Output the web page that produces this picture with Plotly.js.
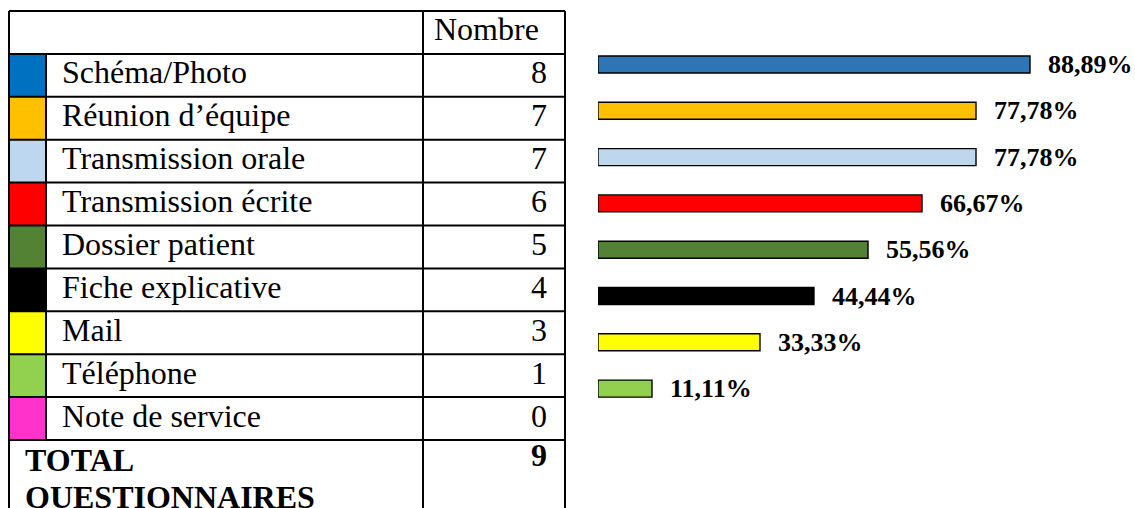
<!DOCTYPE html>
<html><head><meta charset="utf-8">
<script src="https://cdn.plot.ly/plotly-3.0.1.min.js"></script>
<style>html,body{margin:0;padding:0;background:#fff;} #chart{width:1135px;height:508px;}</style>
</head><body><div id="chart"></div>
<script>
// ---- data ----
const categories = ["Schéma/Photo","Réunion d’équipe","Transmission orale","Transmission écrite","Dossier patient","Fiche explicative","Mail","Téléphone","Note de service"];
const counts = [8,7,7,6,5,4,3,1,0];
const swatchColors = ["#0070C0","#FFC000","#BDD7EE","#FF0000","#548235","#000000","#FFFF00","#92D050","#FF33CC"];
const headerLabel = "Nombre";
const totalLines = ["TOTAL","QUESTIONNAIRES"];
const totalCount = 9;
const barCategories = ["Schéma/Photo","Réunion d’équipe","Transmission orale","Transmission écrite","Dossier patient","Fiche explicative","Mail","Téléphone"];
const percentages = [88.89,77.78,77.78,66.67,55.56,44.44,33.33,11.11];
const percentLabels = ["88,89%","77,78%","77,78%","66,67%","55,56%","44,44%","33,33%","11,11%"];
const barColors = ["#2E75B6","#FFC000","#BDD7EE","#FF0000","#548235","#000000","#FFFF00","#92D050"];

// ---- layout constants ----
const W = 1135, H = 508;
const FONT = "Liberation Serif, Times New Roman, serif";
const tableLeft = 9, tableTop = 11, rowH = 42.9;
const colEdges = [0, 37, 414, 556]; // swatch | label | number (widths in table units)
const nRows = categories.length;

const shapes = [];
const annotations = [];
const TX = {xref:'x', yref:'y'};

// swatches
categories.forEach((c,i)=>{
  shapes.push({type:'rect', ...TX, x0:colEdges[0], x1:colEdges[1], y0:i+1, y1:i+2,
    fillcolor:swatchColors[i], line:{width:0}, layer:'above'});
});
// horizontal rules
for (let r=0; r<=nRows+1; r++){
  shapes.push({type:'line', ...TX, x0:colEdges[0], x1:colEdges[3], y0:r, y1:r, line:{color:'#000', width:2}});
}
// vertical rules
[colEdges[0], colEdges[2], colEdges[3]].forEach(x=>{
  shapes.push({type:'line', ...TX, x0:x, x1:x, y0:0, y1:nRows+3, line:{color:'#000', width:2}});
});
shapes.push({type:'line', ...TX, x0:colEdges[1], x1:colEdges[1], y0:1, y1:nRows+1, line:{color:'#000', width:2}});

const cellFont = {family:FONT, size:32, color:'#000'};
annotations.push({...TX, x:colEdges[2]+9, y:0.5, yshift:3, text:headerLabel, showarrow:false, xanchor:'left', yanchor:'middle', font:cellFont});
categories.forEach((c,i)=>{
  annotations.push({...TX, x:colEdges[1]+14, y:i+1.5, yshift:3, text:c, showarrow:false, xanchor:'left', yanchor:'middle', font:cellFont});
  annotations.push({...TX, x:colEdges[3]-16, y:i+1.5, yshift:3, text:String(counts[i]), showarrow:false, xanchor:'right', yanchor:'middle', font:cellFont});
});
totalLines.forEach((t,k)=>{
  annotations.push({...TX, x:colEdges[0]+14, y:nRows+1.47+k*0.86, text:'<b>'+t+'</b>', showarrow:false, xanchor:'left', yanchor:'middle', font:cellFont});
});
annotations.push({...TX, x:colEdges[3]-16, y:nRows+1.35, text:'<b>'+totalCount+'</b>', showarrow:false, xanchor:'right', yanchor:'middle', font:cellFont});

// bar labels
percentLabels.forEach((t,i)=>{
  annotations.push({xref:'x2', yref:'y2', x:percentages[i], y:i, text:'<b>'+t+'</b>', showarrow:false,
    xanchor:'left', yanchor:'middle', xshift:16, font:{family:FONT, size:26, color:'#000'}});
});

const barTop = 64.5, barStep = 46.3;
const y2top = barTop - 0.5*barStep, y2bot = barTop + (barCategories.length-0.5)*barStep;

const data = [{
  type:'bar', orientation:'h', x:percentages, y:barCategories, xaxis:'x2', yaxis:'y2',
  marker:{color:barColors, line:{color:'#000', width:1.4}}, hoverinfo:'skip'
}];

const hidden = {visible:false, showgrid:false, zeroline:false, fixedrange:true};
const layout = {
  width:W, height:H, margin:{l:0,r:0,t:0,b:0}, paper_bgcolor:'#fff', plot_bgcolor:'rgba(0,0,0,0)',
  showlegend:false, bargap:0.633,
  xaxis:{...hidden, domain:[0,1], range:[-tableLeft, W-tableLeft]},
  yaxis:{...hidden, domain:[0,1], range:[(H-tableTop)/rowH, -tableTop/rowH]},
  xaxis2:{...hidden, anchor:'y2', domain:[598/W, 1084/W], range:[0,100]},
  yaxis2:{...hidden, anchor:'x2', type:'category', domain:[1-y2bot/H, 1-y2top/H], range:[barCategories.length-0.5, -0.5]},
  shapes, annotations
};
Plotly.newPlot('chart', data, layout, {displayModeBar:false, staticPlot:true});
</script>
</body></html>
